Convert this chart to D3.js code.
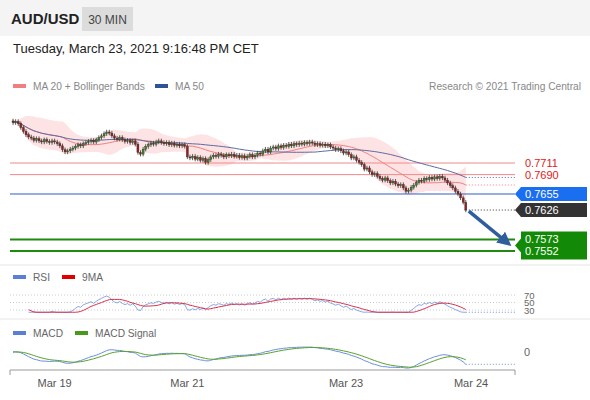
<!DOCTYPE html>
<html>
<head>
<meta charset="utf-8">
<script src="https://cdn.jsdelivr.net/npm/d3@7"></script>
<style>
  body { margin: 0; background: #fff; font-family: "Liberation Sans", Arial, sans-serif; }
</style>
</head>
<body>
<svg id="chart" width="590" height="400"></svg>
<script>
// 30 min closes
var closes = [
  0.7784,0.7786,0.7782,
  0.7775,0.7768,0.7762,0.7758,0.7756,
  0.7752,0.7755,0.7751,0.7749,0.7753,0.7750,0.7748,0.7751,0.7749,0.7746,0.7742,
  0.7735,0.7731,0.7733,0.7736,
  0.7738,0.7741,0.7744,0.7742,0.7746,0.7748,
  0.7750,0.7752,0.7749,0.7753,0.7757,0.7760,
  0.7764,0.7767,0.7765,0.7760,
  0.7756,0.7754,0.7757,0.7753,0.7750,0.7752,0.7748,0.7751,0.7745,
  0.7730,0.7727,0.7736,
  0.7741,0.7744,0.7747,0.7745,0.7749,0.7751,0.7748,
  0.7746,0.7748,0.7744,0.7747,0.7743,0.7745,0.7742,0.7744,0.7741,
  0.7722,0.7720,0.7723,0.7718,0.7721,0.7716,0.7719,0.7712,0.7717,
  0.7722,0.7725,0.7723,0.7727,0.7725,0.7722,0.7726,0.7724,0.7727,0.7723,
  0.7725,0.7721,0.7724,0.7720,0.7723,0.7726,0.7722,0.7725,0.7729,0.7727,
  0.7733,0.7736,0.7731,0.7738,
  0.7740,0.7737,0.7742,0.7739,0.7743,0.7741,0.7745,0.7742,0.7746,0.7744,
  0.7747,0.7745,0.7748,0.7746,0.7749,0.7747,
  0.7744,0.7746,0.7743,0.7745,0.7742,0.7744,0.7740,
  0.7738,0.7735,0.7737,0.7733,0.7729,0.7731,
  0.7726,0.7720,0.7722,0.7716,0.7712,0.7708,
  0.7700,0.7702,0.7695,0.7690,0.7692,0.7687,0.7683,
  0.7680,0.7684,0.7679,0.7675,0.7678,0.7673,0.7670,0.7672,0.7666,0.7660,
  0.7662,0.7667,0.7671,0.7676,0.7680,0.7678,0.7683,0.7681,0.7685,
  0.7682,0.7686,0.7683,0.7687,0.7684,0.7680,
  0.7675,0.7670,0.7666,0.7660,0.7655,0.7648,0.7640,0.7626
];
var dayLabels = ["Mar 19", "Mar 21", "Mar 23", "Mar 24"];
var dayIndex = [16, 67, 128, 176];
var levels = [0.7711, 0.7690, 0.7655, 0.7626, 0.7573, 0.7552];
var levelKind = ["res", "res", "pivot", "last", "sup", "sup"];
var rsiTicks = [70, 50, 30];

var svg = d3.select("#chart");
var W = 590;

// header
svg.append("rect").attr("width", W).attr("height", 36).attr("fill", "#f4f4f4");
svg.append("text").attr("x", 11).attr("y", 24).attr("font-size", 15).attr("font-weight", "bold").attr("fill", "#222").text("AUD/USD");
svg.append("rect").attr("x", 82).attr("y", 7).attr("width", 51).attr("height", 24).attr("fill", "#dcdcdc");
svg.append("text").attr("x", 107.5).attr("y", 24).attr("text-anchor", "middle").attr("font-size", 12).attr("fill", "#444").text("30 MIN");
svg.append("text").attr("x", 13).attr("y", 53).attr("font-size", 13).attr("fill", "#222").text("Tuesday, March 23, 2021 9:16:48 PM CET");

// legend
var lg = svg.append("g").attr("font-size", 10.2).attr("fill", "#888");
lg.append("rect").attr("x", 13).attr("y", 84).attr("width", 13).attr("height", 4).attr("fill", "#f08080");
lg.append("text").attr("x", 33).attr("y", 90).text("MA 20 + Bollinger Bands");
lg.append("rect").attr("x", 155).attr("y", 84).attr("width", 13).attr("height", 4).attr("fill", "#2f5496");
lg.append("text").attr("x", 175).attr("y", 90).text("MA 50");
lg.append("text").attr("x", 581).attr("y", 90).attr("text-anchor", "end").text("Research \u00a9 2021 Trading Central");

// scales
var x = d3.scaleLinear().domain([0, 176]).range([13, 471]);
var y = d3.scaleLinear().domain([0.7552, 0.7711]).range([251, 163]);
var lastX = x(closes.length - 1);
var endX = 515;

// indicators
function sma(arr, n) {
  return arr.map(function (d, i) {
    var s = arr.slice(Math.max(0, i - n + 1), i + 1);
    return d3.mean(s);
  });
}
function ema(arr, n) {
  var k = 2 / (n + 1), out = [];
  arr.forEach(function (d, i) { out.push(i === 0 ? d : d * k + out[i - 1] * (1 - k)); });
  return out;
}
var ma20 = sma(closes, 20);
var ma50 = sma(closes, 50);
var bb = closes.map(function (d, i) {
  var s = closes.slice(Math.max(0, i - 19), i + 1);
  var sd = d3.deviation(s) || 0.0004;
  return { up: ma20[i] + 2 * sd, lo: ma20[i] - 2 * sd };
});

var main = svg.append("g");
main.append("path").datum(bb)
  .attr("d", d3.area().x(function (d, i) { return x(i); }).y0(function (d) { return y(d.lo); }).y1(function (d) { return y(d.up); }).curve(d3.curveMonotoneX))
  .attr("fill", "#fde3e4");

// level lines
levels.forEach(function (v, i) {
  var k = levelKind[i];
  if (k === "last") {
    main.append("line").attr("x1", lastX).attr("x2", endX).attr("y1", y(v)).attr("y2", y(v))
      .attr("stroke", "#333").attr("stroke-dasharray", "1,2");
    return;
  }
  var col = k === "res" ? "#f08a8a" : k === "pivot" ? "#2f5ec4" : "#1e8a0e";
  main.append("line").attr("x1", 10).attr("x2", endX).attr("y1", y(v)).attr("y2", y(v))
    .attr("stroke", col).attr("stroke-width", k === "sup" ? 2 : 1);
});

main.append("path").datum(ma20)
  .attr("d", d3.line().x(function (d, i) { return x(i); }).y(y).curve(d3.curveMonotoneX))
  .attr("fill", "none").attr("stroke", "#f08080").attr("stroke-width", 1);
main.append("path").datum(ma50)
  .attr("d", d3.line().x(function (d, i) { return x(i); }).y(y).curve(d3.curveMonotoneX))
  .attr("fill", "none").attr("stroke", "#5a6aa0").attr("stroke-width", 1);
[ma20[ma20.length - 1], ma50[ma50.length - 1]].forEach(function (v, i) {
  main.append("line").attr("x1", lastX).attr("x2", endX).attr("y1", y(v)).attr("y2", y(v))
    .attr("stroke", i ? "#5a6aa0" : "#f08080").attr("stroke-dasharray", "1,2");
});

// candles
var candles = closes.map(function (c, i) {
  var o = i === 0 ? c + 0.0003 : closes[i - 1];
  return { i: i, o: o, c: c, h: Math.max(o, c) + 0.0004, l: Math.min(o, c) - 0.0004 };
});
var cg = main.selectAll(".candle").data(candles).enter().append("g");
cg.append("line")
  .attr("x1", function (d) { return x(d.i); }).attr("x2", function (d) { return x(d.i); })
  .attr("y1", function (d) { return y(d.h); }).attr("y2", function (d) { return y(d.l); })
  .attr("stroke", "#333").attr("stroke-width", 0.8);
cg.append("rect")
  .attr("x", function (d) { return x(d.i) - 1; }).attr("width", 2)
  .attr("y", function (d) { return y(Math.max(d.o, d.c)); })
  .attr("height", function (d) { return Math.max(1, Math.abs(y(d.o) - y(d.c))); })
  .attr("fill", function (d) { return d.c >= d.o ? "#3a8a1a" : "#9b1c1c"; })
  .attr("stroke", "#333").attr("stroke-width", 0.4);

// arrow
var ax1 = lastX + 3, ay1 = y(0.7626) + 1, ax2 = 512, ay2 = y(0.7560);
svg.append("defs").append("marker").attr("id", "ah").attr("viewBox", "0 0 10 10").attr("refX", 5).attr("refY", 5)
  .attr("markerWidth", 4).attr("markerHeight", 4).attr("orient", "auto")
  .append("path").attr("d", "M0,0L10,5L0,10z").attr("fill", "#2f5e9e");
svg.append("line").attr("x1", ax1).attr("y1", ay1).attr("x2", ax2 - 6).attr("y2", ay2 - 5)
  .attr("stroke", "#2f5e9e").attr("stroke-width", 3.5).attr("marker-end", "url(#ah)");

// right labels
function tag(v, bg, fg, yy) {
  var g = svg.append("g");
  if (bg) {
    g.append("path").attr("d", "M515," + yy + "l6,-7h66v14h-66z").attr("fill", bg);
  }
  g.append("text").attr("x", 525).attr("y", yy + 4).attr("font-size", 11).attr("fill", fg).text(v.toFixed(4));
}
tag(levels[0], null, "#e0201a", y(levels[0]));
tag(levels[1], null, "#e0201a", y(levels[1]));
tag(levels[2], "#1a6ef0", "#fff", y(levels[2]));
tag(levels[3], "#333", "#fff", y(levels[3]));
svg.append("path").attr("d", "M515," + y(0.7562) + "l6,-7v-7h66v28h-66v-7z").attr("fill", "#138a07");
svg.append("text").attr("x", 525).attr("y", y(levels[4]) + 4).attr("font-size", 11).attr("fill", "#fff").text(levels[4].toFixed(4));
svg.append("text").attr("x", 525).attr("y", y(levels[5]) + 4).attr("font-size", 11).attr("fill", "#fff").text(levels[5].toFixed(4));

// separators
[265, 319].forEach(function (yy) {
  svg.append("line").attr("x1", 0).attr("x2", W).attr("y1", yy).attr("y2", yy).attr("stroke", "#e6e6e6");
});

// RSI
var gains = closes.map(function (c, i) { return i ? Math.max(0, c - closes[i - 1]) : 0; });
var losses = closes.map(function (c, i) { return i ? Math.max(0, closes[i - 1] - c) : 0; });
var ag = ema(gains, 27), al = ema(losses, 27);
var rsi = ag.map(function (g, i) { return al[i] + g === 0 ? 50 : 100 * g / (g + al[i]); });
var rsi9 = sma(rsi, 9);
var yr = d3.scaleLinear().domain([30, 70]).range([310, 295]);
var rsiLine = d3.line().defined(function (d, i) { return i >= 6; })
  .x(function (d, i) { return x(i); }).y(function (d) { return yr(Math.max(24, Math.min(76, d))); });
svg.append("rect").attr("x", 13).attr("y", 275).attr("width", 13).attr("height", 4).attr("fill", "#5b7fd6");
svg.append("text").attr("x", 33).attr("y", 281).attr("font-size", 10.2).attr("fill", "#666").text("RSI");
svg.append("rect").attr("x", 62).attr("y", 275).attr("width", 13).attr("height", 4).attr("fill", "#e00000");
svg.append("text").attr("x", 82).attr("y", 281).attr("font-size", 10.2).attr("fill", "#666").text("9MA");
rsiTicks.forEach(function (t) {
  svg.append("line").attr("x1", 10).attr("x2", endX).attr("y1", yr(t)).attr("y2", yr(t))
    .attr("stroke", "#ccc").attr("stroke-dasharray", "1,2");
  svg.append("text").attr("x", 524).attr("y", yr(t) + 3.5).attr("font-size", 9.5).attr("fill", "#666").text(t);
});
svg.append("path").datum(rsi).attr("d", rsiLine)
  .attr("fill", "none").attr("stroke", "#6b8fe0").attr("stroke-width", 0.8);
svg.append("path").datum(rsi9).attr("d", rsiLine)
  .attr("fill", "none").attr("stroke", "#d9304a").attr("stroke-width", 1);
svg.append("line").attr("x1", lastX).attr("x2", endX).attr("y1", yr(Math.max(24, rsi[rsi.length - 1]))).attr("y2", yr(Math.max(24, rsi[rsi.length - 1])))
  .attr("stroke", "#6b8fe0").attr("stroke-dasharray", "1,2");

// MACD
var e12 = ema(closes, 12), e26 = ema(closes, 26);
var macd = e12.map(function (d, i) { return d - e26[i]; });
var sig = ema(macd, 9);
var mExt = d3.extent(macd.concat(sig));
var ym = d3.scaleLinear().domain([mExt[0], 0]).range([368, 352]);
svg.append("rect").attr("x", 13).attr("y", 331).attr("width", 13).attr("height", 4).attr("fill", "#5b7fd6");
svg.append("text").attr("x", 33).attr("y", 337).attr("font-size", 10.2).attr("fill", "#666").text("MACD");
svg.append("rect").attr("x", 75).attr("y", 331).attr("width", 13).attr("height", 4).attr("fill", "#4a9a1a");
svg.append("text").attr("x", 95).attr("y", 337).attr("font-size", 10.2).attr("fill", "#666").text("MACD Signal");
svg.append("text").attr("x", 524).attr("y", 356).attr("font-size", 11).attr("fill", "#666").text("0");
svg.append("path").datum(macd)
  .attr("d", d3.line().x(function (d, i) { return x(i); }).y(ym).curve(d3.curveMonotoneX))
  .attr("fill", "none").attr("stroke", "#6b8fe0").attr("stroke-width", 1);
svg.append("path").datum(sig)
  .attr("d", d3.line().x(function (d, i) { return x(i); }).y(ym).curve(d3.curveMonotoneX))
  .attr("fill", "none").attr("stroke", "#5aa02a").attr("stroke-width", 1);
svg.append("line").attr("x1", lastX).attr("x2", endX).attr("y1", ym(macd[macd.length - 1])).attr("y2", ym(macd[macd.length - 1]))
  .attr("stroke", "#6b8fe0").attr("stroke-dasharray", "1,2");

// x axis
svg.append("path").attr("d", "M10,375V370H515V375").attr("fill", "none").attr("stroke", "#999");
dayIndex.forEach(function (di, i) {
  svg.append("text").attr("x", x(di)).attr("y", 387).attr("text-anchor", "middle")
    .attr("font-size", 11).attr("fill", "#555").text(dayLabels[i]);
});
</script>
</body>
</html>
